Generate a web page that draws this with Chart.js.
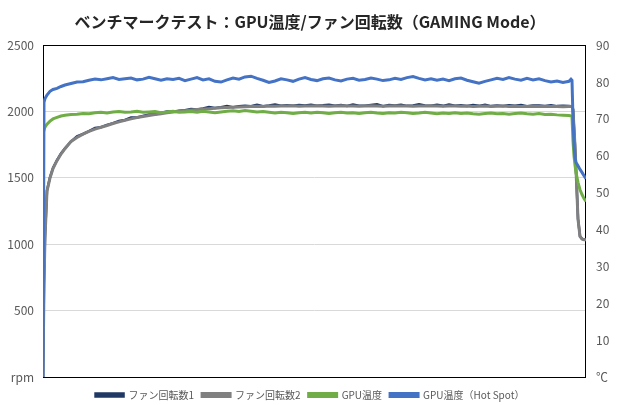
<!DOCTYPE html>
<html lang="ja">
<head>
    <meta charset="UTF-8">
    <title>ベンチマークテスト：GPU温度/ファン回転数</title>
    <script src="https://cdn.jsdelivr.net/npm/chart.js"></script>
    <style>
        html, body { margin: 0; padding: 0; background: #ffffff; }
        .wrap { width: 620px; height: 405px; }
    </style>
</head>
<body>
<div class="wrap"><canvas id="benchChart" width="620" height="405"></canvas></div>
<script>
    // sample positions along the run (unlabelled time axis)
    const sec = [0, 1, 2, 4, 7, 10, 14, 18,
        22, 28, 34, 40, 46, 52, 58, 64, 70, 76,
        82, 88, 94, 100, 106, 112, 118, 124, 130, 136,
        142, 148, 154, 160, 166, 172, 178, 184, 190, 196,
        202, 208, 214, 220, 226, 232, 238, 244, 250, 256,
        262, 268, 274, 280, 286, 292, 298, 304, 310, 316,
        322, 328, 334, 340, 346, 352, 358, 364, 370, 376,
        382, 388, 394, 400, 406, 412, 418, 424, 430, 436,
        442, 448, 454, 460, 466, 472, 478, 484, 490, 496,
        502, 508, 514, 520, 526,
        528, 529, 530, 531, 532, 533, 535, 537, 539, 541, 543];

    // ファン回転数1 (rpm)
    const fan1 = [0, 710, 1060, 1405, 1505, 1575, 1635, 1684,
        1724, 1773, 1813, 1831, 1853, 1877, 1882, 1900, 1912, 1929,
        1937, 1955, 1955, 1966, 1978, 1978, 1990, 2001, 1999, 2007,
        2010, 2020, 2016, 2024, 2034, 2027, 2032, 2041, 2033, 2041,
        2044, 2040, 2051, 2040, 2045, 2053, 2044, 2047, 2044, 2049,
        2045, 2051, 2044, 2047, 2052, 2044, 2050, 2042, 2053, 2044,
        2043, 2049, 2055, 2041, 2049, 2046, 2052, 2043, 2045, 2054,
        2045, 2044, 2051, 2043, 2053, 2044, 2047, 2042, 2049, 2043,
        2052, 2041, 2045, 2042, 2048, 2043, 2050, 2040, 2046, 2046,
        2042, 2048, 2041, 2044, 2042,
        2040, 2038, 2018, 1884, 1744, 1563, 1193, 1061, 1041, 1036, 1036];

    // ファン回転数2 (rpm)
    const fan2 = [0, 700, 1050, 1400, 1500, 1570, 1630, 1680,
        1720, 1775, 1805, 1830, 1850, 1868, 1882, 1895, 1910, 1922,
        1935, 1945, 1955, 1962, 1970, 1977, 1984, 1990, 1996, 2002,
        2007, 2011, 2015, 2019, 2022, 2025, 2028, 2031, 2033, 2035,
        2036, 2038, 2040, 2039, 2041, 2040, 2042, 2041, 2043, 2040,
        2042, 2041, 2043, 2042, 2040, 2042, 2043, 2041, 2042, 2040,
        2041, 2043, 2042, 2040, 2041, 2043, 2042, 2041, 2040, 2042,
        2041, 2043, 2042, 2040, 2041, 2042, 2040, 2041, 2039, 2040,
        2041, 2039, 2040, 2041, 2039, 2040, 2038, 2039, 2040, 2038,
        2039, 2038, 2039, 2037, 2038,
        2038, 2036, 2015, 1880, 1740, 1560, 1190, 1060, 1040, 1035, 1035];

    // GPU温度 (℃)
    const gpuTemp = [66.0, 67.0, 67.8, 68.6, 69.4, 70.0, 70.4, 70.8,
        71.0, 71.2, 71.3, 71.5, 71.4, 71.7, 71.8, 71.6, 71.9, 72.0,
        71.8, 71.9, 72.1, 71.8, 71.9, 72.0, 71.7, 71.9, 72.1, 71.8,
        71.9, 72.0, 71.8, 72.1, 71.9, 71.7, 71.9, 72.1, 72.2, 72.0,
        72.3, 72.1, 71.9, 72.0, 71.8, 71.6, 71.8, 71.7, 71.5, 71.7,
        71.8, 71.6, 71.8, 71.7, 71.5, 71.7, 71.8, 71.6, 71.7, 71.5,
        71.7, 71.8, 71.6, 71.5, 71.7, 71.6, 71.8, 71.7, 71.5, 71.6,
        71.8, 71.6, 71.4, 71.6, 71.5, 71.7, 71.5, 71.6, 71.4, 71.3,
        71.5, 71.6, 71.4, 71.5, 71.3, 71.5, 71.6, 71.4, 71.3, 71.5,
        71.2, 71.3, 71.1, 71.0, 70.9,
        70.8, 70.6, 64.0, 60.0, 57.5, 55.5, 52.8, 50.8, 49.5, 48.4, 47.6];

    // GPU温度（Hot Spot） (℃)
    const hotSpot = [0, 74.5, 75.5, 76.5, 77.5, 78.0, 78.3, 78.8,
        79.2, 79.6, 80.0, 80.1, 80.5, 80.8, 80.6, 80.9, 81.2, 80.7,
        80.9, 81.1, 80.6, 80.8, 81.3, 80.9, 80.5, 80.9, 80.7, 81.0,
        80.4, 80.8, 81.2, 80.6, 80.9, 80.2, 80.0, 80.6, 81.1, 80.8,
        81.4, 81.6, 81.0, 80.5, 79.9, 80.3, 80.9, 80.6, 80.2, 80.8,
        81.2, 80.7, 80.4, 80.9, 81.1, 80.6, 80.3, 80.8, 81.0, 80.5,
        80.7, 81.1, 80.8, 80.4, 80.6, 81.0, 80.7, 81.2, 81.5, 81.0,
        80.6, 80.9, 80.5, 80.8, 80.4, 80.9, 81.1, 80.5, 80.1, 79.7,
        80.2, 80.6, 81.0, 80.7, 81.2, 80.8, 80.5, 81.0, 80.6, 80.9,
        80.4, 80.0, 80.3, 79.9, 80.2,
        80.8, 80.5, 70.0, 63.0, 59.5, 58.2, 57.3, 56.3, 55.5, 54.6, 53.8];

    const rpmTicks = [0, 500, 1000, 1500, 2000, 2500];
    const tempTicks = [0, 10, 20, 30, 40, 50, 60, 70, 80, 90];

    const FONT = '"Noto Sans CJK JP", "Noto Sans", sans-serif';
    const pts = arr => sec.map((x, i) => ({ x: x, y: arr[i] }));

    // black frame round the plot area, drawn under the lines
    const plotFrame = {
        id: 'plotFrame',
        beforeDatasetsDraw(chart) {
            const a = chart.chartArea;
            const c = chart.ctx;
            c.save();
            c.strokeStyle = '#000000';
            c.lineWidth = 1;
            c.strokeRect(Math.round(a.left) + 0.5, Math.round(a.top) + 0.5,
                Math.round(a.right - a.left) - 1, Math.round(a.bottom - a.top));
            c.restore();
        }
    };

    new Chart(document.getElementById('benchChart'), {
        type: 'line',
        data: {
            datasets: [
                { label: 'ファン回転数1', data: pts(fan1), yAxisID: 'yRpm', borderColor: '#203864', backgroundColor: '#203864', borderWidth: 2.5, order: 4 },
                { label: 'ファン回転数2', data: pts(fan2), yAxisID: 'yRpm', borderColor: '#808080', backgroundColor: '#808080', borderWidth: 3, order: 3 },
                { label: 'GPU温度', data: pts(gpuTemp), yAxisID: 'yTemp', borderColor: '#70ad47', backgroundColor: '#70ad47', borderWidth: 3, order: 2 },
                { label: 'GPU温度（Hot Spot）', data: pts(hotSpot), yAxisID: 'yTemp', borderColor: '#4472c4', backgroundColor: '#4472c4', borderWidth: 3, order: 1 }
            ]
        },
        options: {
            responsive: false,
            animation: false,
            layout: { padding: { left: 0, right: 0, top: 0, bottom: 0 } },
            elements: { point: { radius: 0 }, line: { tension: 0 } },
            plugins: {
                title: {
                    display: true,
                    text: 'ベンチマークテスト：GPU温度/ファン回転数（GAMING Mode）',
                    color: '#262626',
                    font: { family: FONT, size: 16, weight: 'bold' },
                    padding: { top: 12, bottom: 14 }
                },
                legend: {
                    position: 'bottom',
                    maxHeight: 23,
                    labels: {
                        color: '#595959',
                        font: { family: FONT, size: 10 },
                        boxWidth: 28,
                        boxHeight: 3,
                        padding: 8,
                        sort: (a, b) => a.datasetIndex - b.datasetIndex
                    }
                },
                tooltip: { enabled: false }
            },
            scales: {
                x: {
                    type: 'linear',
                    min: 0,
                    max: 543,
                    display: true,
                    afterFit: s => { s.height = 5; },
                    border: { display: false },
                    grid: { display: false, drawTicks: false },
                    ticks: { display: false }
                },
                yRpm: {
                    position: 'left',
                    min: 0,
                    max: 2500,
                    afterBuildTicks: s => { s.ticks = rpmTicks.map(v => ({ value: v })); },
                    afterFit: s => { s.width = 43; },
                    border: { display: false },
                    grid: { color: '#d9d9d9', drawTicks: false },
                    ticks: {
                        color: '#595959',
                        font: { family: FONT, size: 12 },
                        padding: 9,
                        callback: v => v === 0 ? 'rpm' : v
                    }
                },
                yTemp: {
                    position: 'right',
                    min: 0,
                    max: 90,
                    afterBuildTicks: s => { s.ticks = tempTicks.map(v => ({ value: v })); },
                    afterFit: s => { s.width = 34; },
                    border: { display: false },
                    grid: { display: false, drawTicks: false },
                    ticks: {
                        color: '#595959',
                        font: { family: FONT, size: 12 },
                        padding: 10,
                        callback: v => v === 0 ? '℃' : v
                    }
                }
            }
        },
        plugins: [plotFrame]
    });
</script>
</body>
</html>
